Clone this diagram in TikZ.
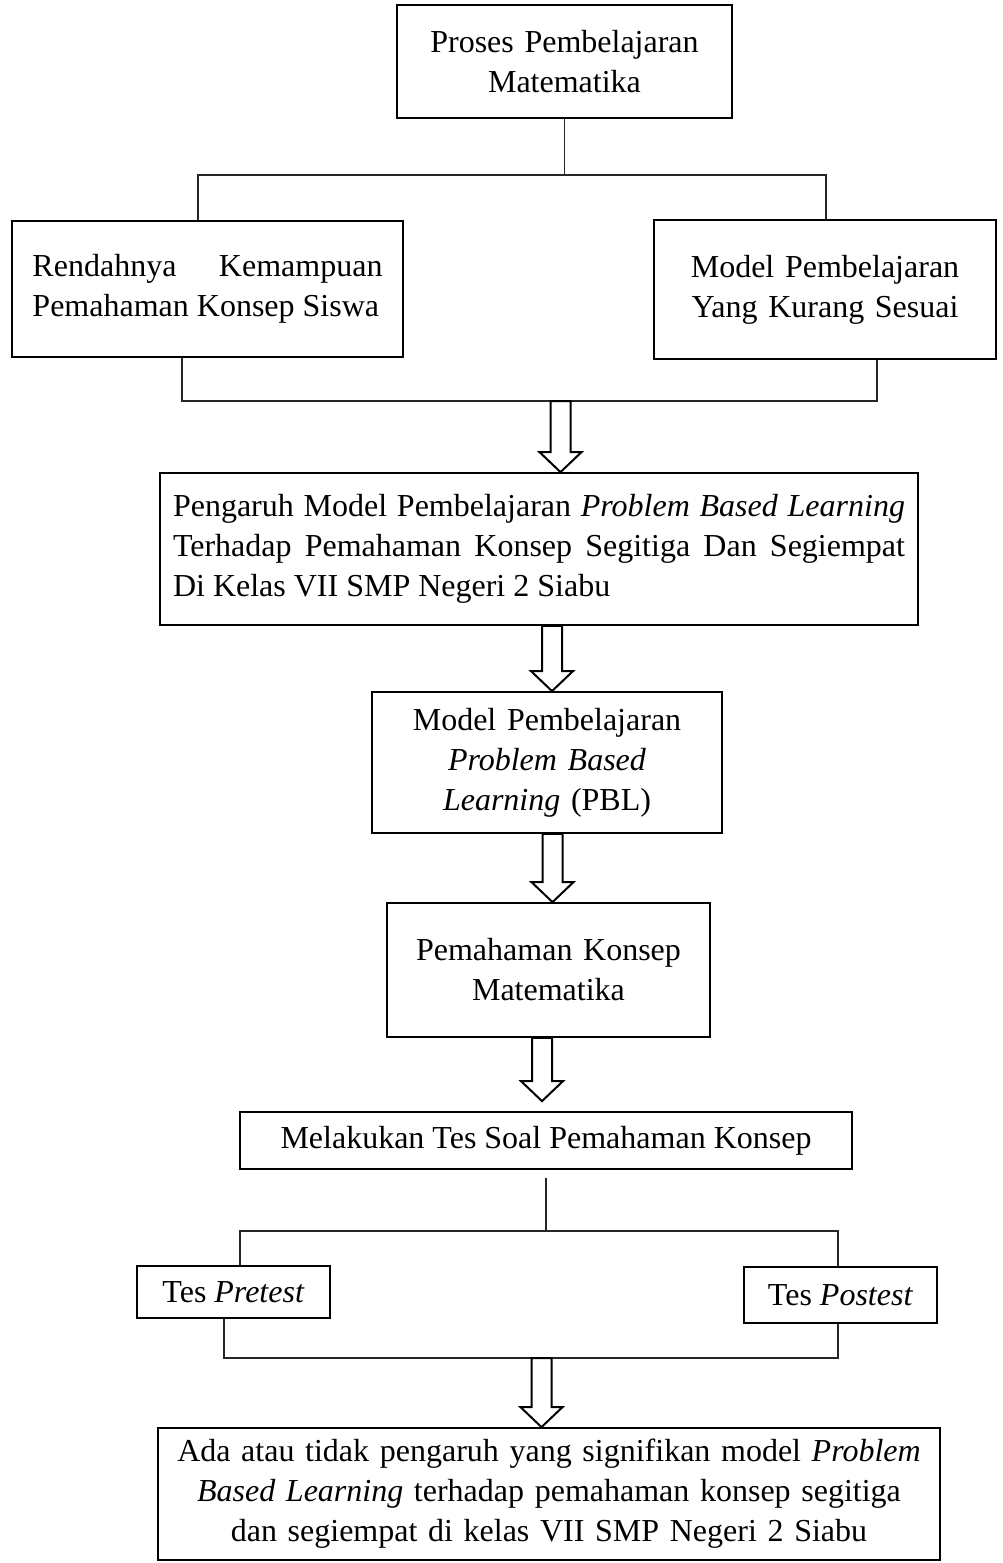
\documentclass[tikz,border=0pt]{standalone}
\usepackage{fontspec}
\setmainfont{Liberation Serif}
\usetikzlibrary{calc}
\tikzset{
	box/.style={draw, line width=0.9pt, inner sep=2pt, font=\fontsize{16}{20}\selectfont},
	link/.style={line width=0.55pt, black!85},
	blockarr/.style={draw, line width=1pt, fill=white, line join=miter},
}
\def\blockarrow(#1)(#2){\draw[blockarr] ($(#1)+(-10,0)$) -- ($(#1 |- #2)+(-10,-20)$) -- ($(#1 |- #2)+(-21,-20)$) -- (#1 |- #2) -- ($(#1 |- #2)+(21,-20)$) -- ($(#1 |- #2)+(10,-20)$) -- ($(#1)+(10,0)$) -- cycle;}

\begin{document}
\begin{tikzpicture}[x=0.5pt, y=-0.5pt]
			%%%%% START %%%%%
			\useasboundingbox (0,0) rectangle (1002,1563);
			
			\node[box, minimum width=167.5pt, minimum height=56.5pt, text width=150pt, align=center] (proses) at (564.5,61.5) {Proses Pembelajaran\\Matematika};
			
			\node[box, minimum width=195.5pt, minimum height=68pt, text width=175pt, align=justify] (rendah) at (207.5,289) {Rendahnya Kemampuan\linebreak Pemahaman Konsep Siswa\par\vspace{8pt}};
			\node[box, minimum width=171pt, minimum height=69.5pt, text width=160pt, align=center] (kurang) at (825,289.5) {Model Pembelajaran\\Yang Kurang Sesuai\par\vspace{8pt}};
			
			\node[box, minimum width=379pt, minimum height=76pt, text width=366pt, align=justify] (pengaruh) at (539,549) {Pengaruh Model Pembelajaran \textit{Problem Based Learning}\linebreak Terhadap Pemahaman Konsep Segitiga Dan Segiempat\linebreak Di Kelas VII SMP Negeri 2 Siabu};
			
			\node[box, minimum width=175pt, minimum height=70.5pt, text width=160pt, align=center] (pbl) at (547,762.5) {Model Pembelajaran\\\textit{Problem Based}\\\textit{Learning} (PBL)};
			
			\node[box, minimum width=161.5pt, minimum height=67pt, text width=150pt, align=center] (pemahaman) at (548.5,970) {Pemahaman Konsep\\Matematika\par\vspace{8pt}};
			
			\node[box, minimum width=306pt, minimum height=28.5pt] (tes) at (546,1140.5) {Melakukan Tes Soal Pemahaman Konsep};
			
			\node[box, minimum width=96.5pt, minimum height=26pt] (pre) at (233.5,1292) {Tes \textit{Pretest}};
			\node[box, minimum width=96.5pt, minimum height=28pt] (post) at (840.5,1295) {Tes \textit{Postest}};
			
			\node[box, minimum width=391pt, minimum height=66pt, text width=375pt, align=center] (hasil) at (549,1494) {Ada atau tidak pengaruh yang signifikan model \textit{Problem}\\\textit{Based Learning} terhadap pemahaman konsep segitiga\\dan segiempat di kelas VII SMP Negeri 2 Siabu};
			
			% cabang atas
			\coordinate (jl) at (198,175);
			\coordinate (jr) at (826,175);
			\draw[link] (proses.south) -- (proses.south |- jl);
			\draw[link] (jl |- rendah.north) -- (jl) -- (jr) -- (jr |- kurang.north);
			
			\coordinate (ml) at (182,401);
			\coordinate (mr) at (877,401);
			\draw[link] (ml |- rendah.south) -- (ml) -- (mr) -- (mr |- kurang.south);
			
			% panah
			\coordinate (a1) at (560.5,401);
			\blockarrow(a1)(pengaruh.north)
			\coordinate (a2) at ([xshift=6.5pt]pengaruh.south);
			\blockarrow(a2)(pbl.north)
			\coordinate (a3) at ([xshift=2.75pt]pbl.south);
			\blockarrow(a3)(pemahaman.north)
			\coordinate (a4) at ([xshift=-3.25pt]pemahaman.south);
			\coordinate (tesgap) at ([yshift=5pt]tes.north);
			\blockarrow(a4)(tesgap)
			
			% cabang bawah
			\coordinate (kl) at (240,1231);
			\coordinate (kr) at (838,1231);
			\draw[link] ([yshift=-4pt]tes.south) -- (tes.south |- kl);
			\draw[link] (kl |- pre.north) -- (kl) -- (kr) -- (kr |- post.north);
			
			\coordinate (nl) at (224,1358);
			\coordinate (nr) at (838,1358);
			\draw[link] (nl |- pre.south) -- (nl) -- (nr) -- (nr |- post.south);
			
			\coordinate (a5) at (541.5,1358);
			\blockarrow(a5)(hasil.north)
			
			%%%%% END %%%%%
\end{tikzpicture}
\end{document}
